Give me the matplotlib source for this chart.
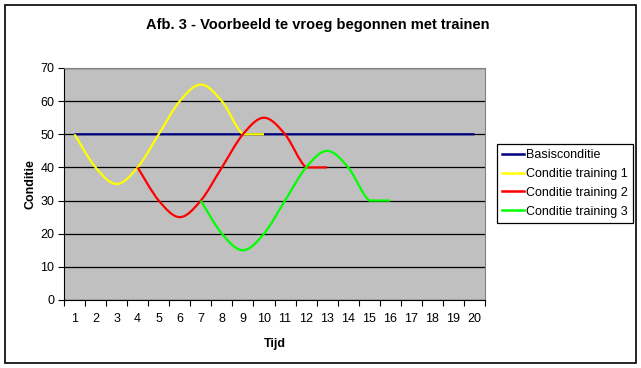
from matplotlib import pyplot as plt
from matplotlib.lines import Line2D
from matplotlib.path import Path
from matplotlib.patches import PathPatch, Rectangle

# data
tijd = list(range(1, 21))
basis = [50] * 20
training1_x = list(range(1, 11))
training1 = [50, 40, 35, 40, 50, 60, 65, 60, 50, 50]
training2_x = list(range(4, 14))
training2 = [40, 30, 25, 30, 40, 50, 55, 50, 40, 40]
training3_x = list(range(7, 17))
training3 = [30, 20, 15, 20, 30, 40, 45, 40, 30, 30]

series = [
    ("Basisconditie", tijd, basis, "#000080"),
    ("Conditie training 1", training1_x, training1, "#FFFF00"),
    ("Conditie training 2", training2_x, training2, "#FF0000"),
    ("Conditie training 3", training3_x, training3, "#00FF00"),
]

FONT = "Liberation Sans"


def smooth_path(xs, ys):
    '''
    Bezier path through the points, like the smoothed lines in Excel
    (control points kept inside each segment so flat ends stay flat)
    '''
    pts = list(zip(xs, ys))
    n = len(pts)
    verts = [pts[0]]
    codes = [Path.MOVETO]
    for i in range(n - 1):
        p0 = pts[max(i - 1, 0)]
        p1 = pts[i]
        p2 = pts[i + 1]
        p3 = pts[min(i + 2, n - 1)]
        lo, hi = min(p1[1], p2[1]), max(p1[1], p2[1])
        c1y = min(max(p1[1] + (p2[1] - p0[1]) / 6, lo), hi)
        c2y = min(max(p2[1] - (p3[1] - p1[1]) / 6, lo), hi)
        c1 = (p1[0] + (p2[0] - p0[0]) / 6, c1y)
        c2 = (p2[0] - (p3[0] - p1[0]) / 6, c2y)
        verts += [c1, c2, p2]
        codes += [Path.CURVE4] * 3
    return Path(verts, codes)


fig = plt.figure(figsize=(6.41, 3.68), dpi=100)
fig.patches.append(Rectangle((5 / 641, 1 - 363 / 368), 631 / 641, 358 / 368,
                             transform=fig.transFigure, fill=False,
                             edgecolor="black", linewidth=1.2))

ax = fig.add_axes([64 / 641, 1 - 300 / 368, 421 / 641, 232 / 368])
ax.set_facecolor("#C0C0C0")

for label, xs, ys, color in series:
    ax.add_patch(PathPatch(smooth_path(xs, ys), fill=False,
                           edgecolor=color, linewidth=1.6, zorder=3,
                           capstyle="butt", joinstyle="round"))

ax.set_xlim(0.5, 20.5)
ax.set_ylim(0, 70)
ax.set_yticks(range(0, 71, 10))
ax.yaxis.grid(True, color="black", linewidth=0.9)
ax.set_axisbelow(True)

ax.set_xticks([i + 0.5 for i in range(0, 21)])
ax.set_xticklabels([])
ax.set_xticks(tijd, minor=True)
ax.set_xticklabels([str(t) for t in tijd], minor=True)
ax.tick_params(axis="x", which="minor", length=0, pad=9)
ax.tick_params(axis="y", pad=3)
ax.tick_params(axis="both", which="major", length=4, width=0.8,
               color="black")
for lbl in ax.get_xticklabels(minor=True) + ax.get_yticklabels():
    lbl.set_fontfamily(FONT)
    lbl.set_fontsize(9)

for side in ("top", "right"):
    ax.spines[side].set_color("#808080")
for side in ("left", "bottom"):
    ax.spines[side].set_color("black")

ax.set_xlabel("Tijd", fontfamily=FONT, fontsize=9, fontweight="bold",
              labelpad=10)
ax.set_ylabel("Conditie", fontfamily=FONT, fontsize=9, fontweight="bold",
              labelpad=3)

fig.text(318 / 641, 1 - 25 / 368,
         "Afb. 3 - Voorbeeld te vroeg begonnen met trainen",
         ha="center", va="center", fontfamily=FONT, fontsize=10.5,
         fontweight="bold")

handles = [Line2D([], [], color=c, linewidth=1.8) for _, _, _, c in series]
leg = fig.legend(handles, [s[0] for s in series],
                 loc="upper left",
                 bbox_to_anchor=(497 / 641, 1 - 144 / 368),
                 prop={"family": FONT, "size": 9},
                 frameon=True, fancybox=False, framealpha=1,
                 edgecolor="black", borderpad=0.4, labelspacing=0.55,
                 handlelength=1.75, handletextpad=0.2,
                 borderaxespad=0)
leg.get_frame().set_linewidth(0.9)

fig.savefig("out.png", dpi=100)
